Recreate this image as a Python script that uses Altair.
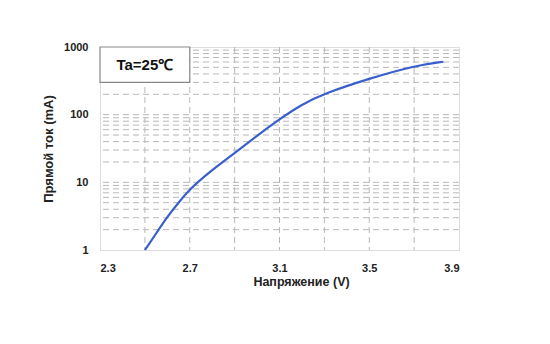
import altair as alt
import pandas as pd

# Curve values
voltage = [2.50, 2.55, 2.60, 2.65, 2.70, 2.78, 2.90, 3.00, 3.10, 3.20, 3.30, 3.50, 3.70, 3.83]
current = [1.0, 1.75, 3.1, 5.0, 7.9, 13.6, 27, 49, 86, 142, 206, 342, 528, 605]

x_labels = [2.3, 2.7, 3.1, 3.5, 3.9]
x_grid = [2.5, 2.7, 2.9, 3.1, 3.3, 3.5, 3.7]
y_labels = [1, 10, 100, 1000]
y_grid = [2, 3, 4, 5, 6, 7, 8, 9, 10, 20, 30, 40, 50, 60, 70, 80, 90, 100,
          200, 300, 400, 500, 600, 700, 800, 900]

curve = pd.DataFrame({"V": voltage, "I": current})
vgrid = pd.DataFrame({"V": x_grid})
hgrid = pd.DataFrame({"I": y_grid})

FONT = "Liberation Sans"
xscale = alt.Scale(domain=[2.3, 3.9], nice=False, zero=False)
yscale = alt.Scale(type="log", domain=[1, 1000], nice=False)

grid_color = "#b8b8b8"

v_rules = alt.Chart(vgrid).mark_rule(color=grid_color, strokeDash=[6, 4], strokeWidth=1).encode(
    x=alt.X("V:Q", scale=xscale)
)
h_rules = alt.Chart(hgrid).mark_rule(color=grid_color, strokeDash=[6, 4], strokeWidth=1).encode(
    y=alt.Y("I:Q", scale=yscale)
)

line = alt.Chart(curve).mark_line(color="#3a5fcd", strokeWidth=2.2, interpolate="basis").encode(
    x=alt.X("V:Q", scale=xscale,
            axis=alt.Axis(values=x_labels, format=".1f", grid=False, ticks=False, domain=False,
                          labelFont=FONT, labelFontWeight="bold", labelFontSize=11,
                          labelColor="#222", labelPadding=12,
                          title="Напряжение (V)", titleFont=FONT, titleFontWeight="bold",
                          titleFontSize=12.5, titleColor="#222", titlePadding=2,
                          titleX=201, titleAlign="center")),
    y=alt.Y("I:Q", scale=yscale,
            axis=alt.Axis(values=y_labels, format="d", grid=False, ticks=False, domain=False,
                          labelFont=FONT, labelFontWeight="bold", labelFontSize=11,
                          labelColor="#222", labelPadding=12,
                          title="Прямой ток (mA)", titleFont=FONT, titleFontWeight="bold",
                          titleFontSize=13, titleColor="#222", titlePadding=8)),
)

box = alt.Chart(pd.DataFrame({"a": [0]})).mark_rect(fill="white", stroke="#888", strokeWidth=1.2).encode(
    x=alt.datum(2.3, scale=xscale), x2=alt.datum(2.70),
    y=alt.datum(1000, scale=yscale), y2=alt.datum(300),
)
label = alt.Chart(pd.DataFrame({"a": [0]})).mark_text(
    text="Ta=25℃", font=FONT, fontWeight="bold", fontSize=15, color="#111"
).encode(
    x=alt.datum(2.5, scale=xscale), y=alt.datum(550, scale=yscale)
)

chart = alt.layer(v_rules, h_rules, box, line, label).properties(
    width=359, height=203,
    padding={"left": 100, "top": 47, "right": 91, "bottom": 94},
    autosize=alt.AutoSizeParams(type="none"),
).configure_view(stroke="#999", strokeWidth=1.2).configure(background="white")

chart.save("out.html", embed_options={"renderer": "svg", "actions": False})
